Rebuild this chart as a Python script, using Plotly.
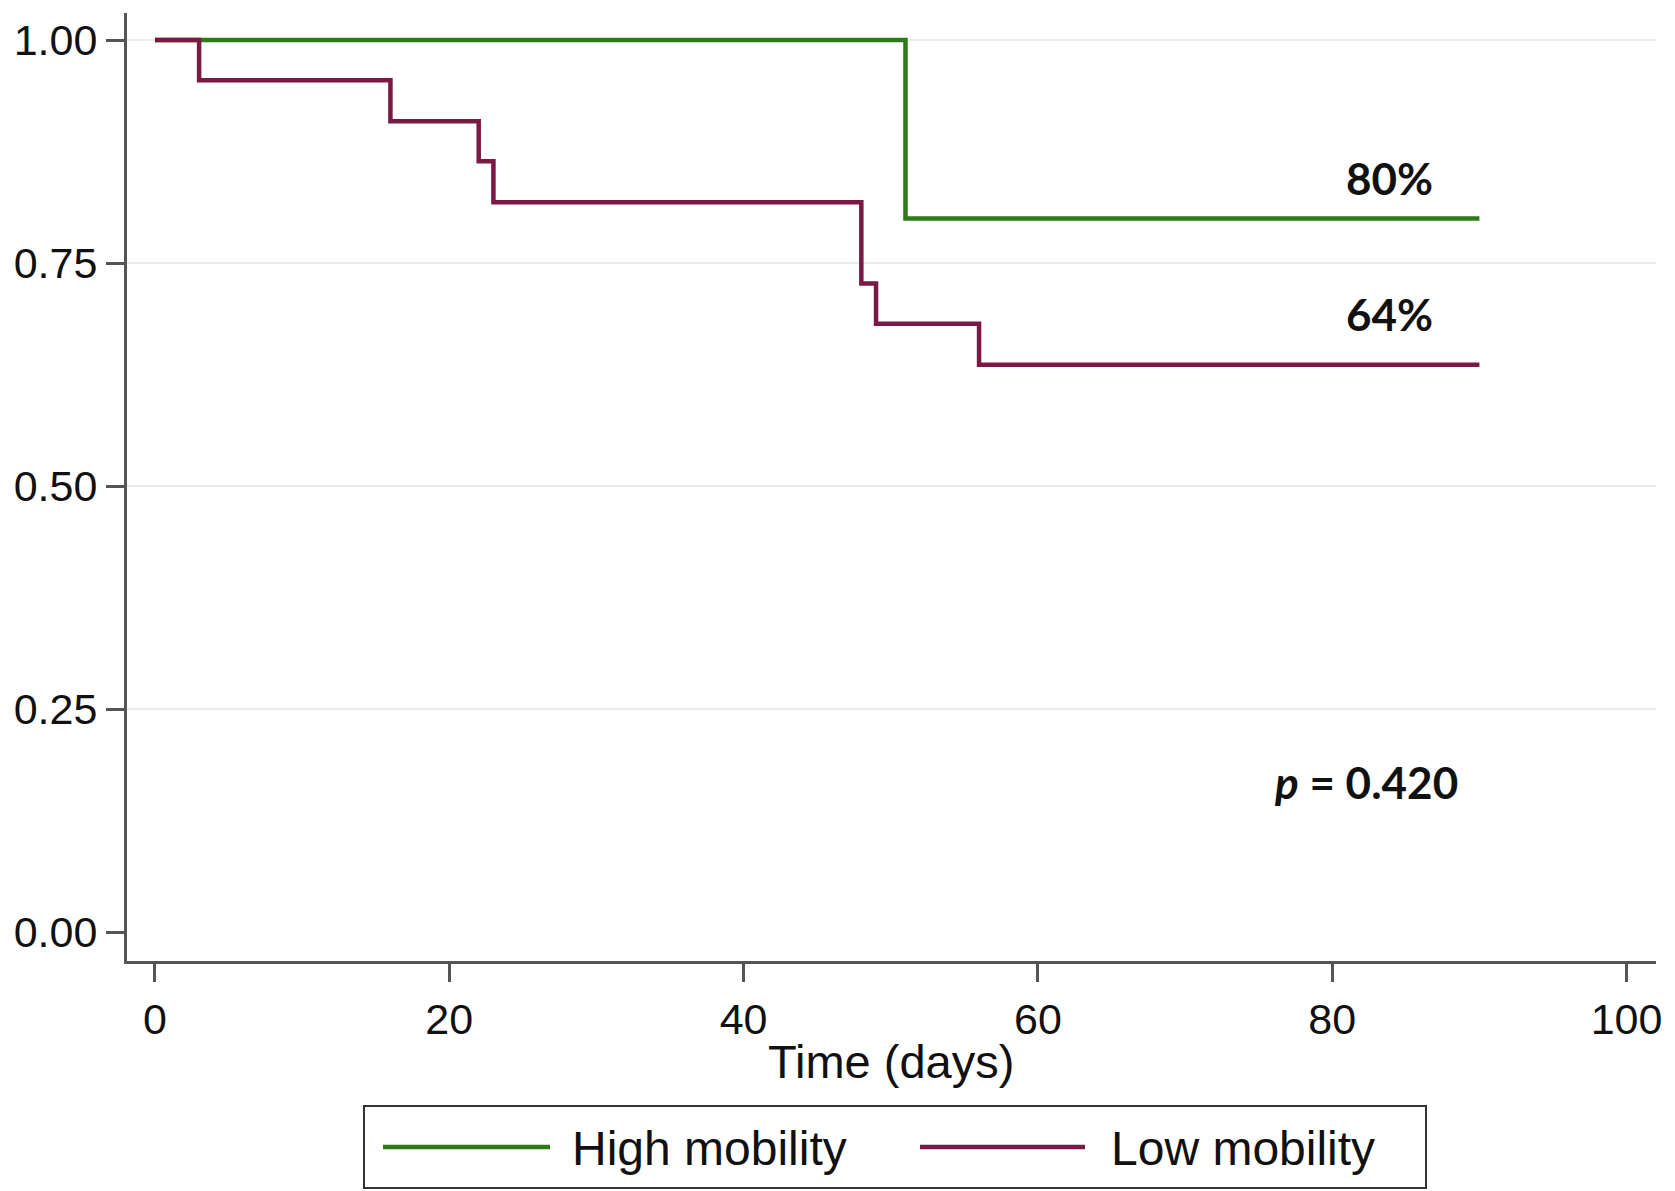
import plotly.graph_objects as go

# Kaplan-Meier step data (time in days, survival proportion)
high_time = [0, 51, 51, 90]
high_surv = [1.00, 1.00, 0.80, 0.80]

low_time = [0, 3, 16, 22, 23, 48, 49, 56, 90]
low_surv = [1.00, 0.955, 0.909, 0.864, 0.818, 0.727, 0.682, 0.636, 0.636]

series_names = ["High mobility", "Low mobility"]
series_colors = ["#2f7a18", "#7a1944"]

x_ticks = [0, 20, 40, 60, 80, 100]
y_ticks = [0.00, 0.25, 0.50, 0.75, 1.00]
y_tick_labels = ["0.00", "0.25", "0.50", "0.75", "1.00"]
grid_levels = [0.25, 0.50, 0.75, 1.00]

end_labels = ["80%", "64%"]
p_label = "<i>p</i> = 0.420"

W, H = 1675, 1191
L, R, T, B = 119, 27, 5, 238
pw, ph = W - L - R, H - T - B


def px(xp):
    return (xp - L) / pw


def py(yp):
    return (H - B - yp) / ph


fig = go.Figure()

# light horizontal gridlines (none at 0)
for g in grid_levels:
    fig.add_shape(type="line", xref="paper", yref="y", x0=0, x1=1, y0=g, y1=g,
                  line=dict(color="#ebebeb", width=2), layer="below")

fig.add_trace(go.Scatter(x=high_time, y=high_surv, mode="lines", name=series_names[0],
                         line=dict(color=series_colors[0], width=4.5, shape="hv")))
fig.add_trace(go.Scatter(x=low_time, y=low_surv, mode="lines", name=series_names[1],
                         line=dict(color=series_colors[1], width=4.5, shape="hv")))

axis_font = dict(family="Liberation Sans, Arial, sans-serif", size=43, color="#111111")
ann_font = dict(family="Lato, sans-serif", size=44, color="#111111")

fig.update_layout(
    width=W, height=H,
    margin=dict(l=L, r=R, t=T, b=B),
    paper_bgcolor="white", plot_bgcolor="white",
    showlegend=False,
    xaxis=dict(range=[-1.9, 102.0], tickvals=x_ticks, ticks="outside", ticklen=18,
               tickwidth=3, tickcolor="#555555", showline=True, linewidth=3,
               linecolor="#555555", showgrid=False, zeroline=False,
               tickfont=axis_font),
    yaxis=dict(range=[-0.0325, 1.0303], tickvals=y_ticks, ticktext=y_tick_labels,
               ticks="outside", ticklen=18, tickwidth=3, tickcolor="#555555",
               showline=True, linewidth=3, linecolor="#555555",
               showgrid=False, zeroline=False,
               tickfont=axis_font),
)

# axis title
fig.add_annotation(x=px(883), y=py(1053), xref="paper", yref="paper", text="Time (days)",
                   showarrow=False, font=dict(family="Liberation Sans, Arial, sans-serif",
                                              size=47, color="#111111"),
                   xanchor="center", yanchor="middle")

# end labels
fig.add_annotation(x=87.0, y=0.845, text="<b>%s</b>" % end_labels[0], showarrow=False,
                   xanchor="right", yanchor="middle", font=ann_font)
fig.add_annotation(x=87.0, y=0.693, text="<b>%s</b>" % end_labels[1], showarrow=False,
                   xanchor="right", yanchor="middle", font=ann_font)
fig.add_annotation(x=88.7, y=0.168, text="<b>%s</b>" % p_label, showarrow=False,
                   xanchor="right", yanchor="middle", font=ann_font)

# manual legend
fig.add_shape(type="rect", xref="paper", yref="paper",
              x0=px(356), x1=px(1418), y0=py(1180), y1=py(1098),
              line=dict(color="#333333", width=2), fillcolor="white")
legend_line_x = [(375, 542), (912, 1077)]
legend_text_x = [562, 1101]
for i in range(2):
    x0, x1 = legend_line_x[i]
    fig.add_shape(type="line", xref="paper", yref="paper",
                  x0=px(x0), x1=px(x1), y0=py(1139), y1=py(1139),
                  line=dict(color=series_colors[i], width=4.5))
    fig.add_annotation(x=px(legend_text_x[i]), y=py(1140), xref="paper", yref="paper",
                       text=series_names[i], showarrow=False, xanchor="left", yanchor="middle",
                       font=dict(family="Liberation Sans, Arial, sans-serif", size=48,
                                 color="#111111"))

fig.write_html("out.html")
